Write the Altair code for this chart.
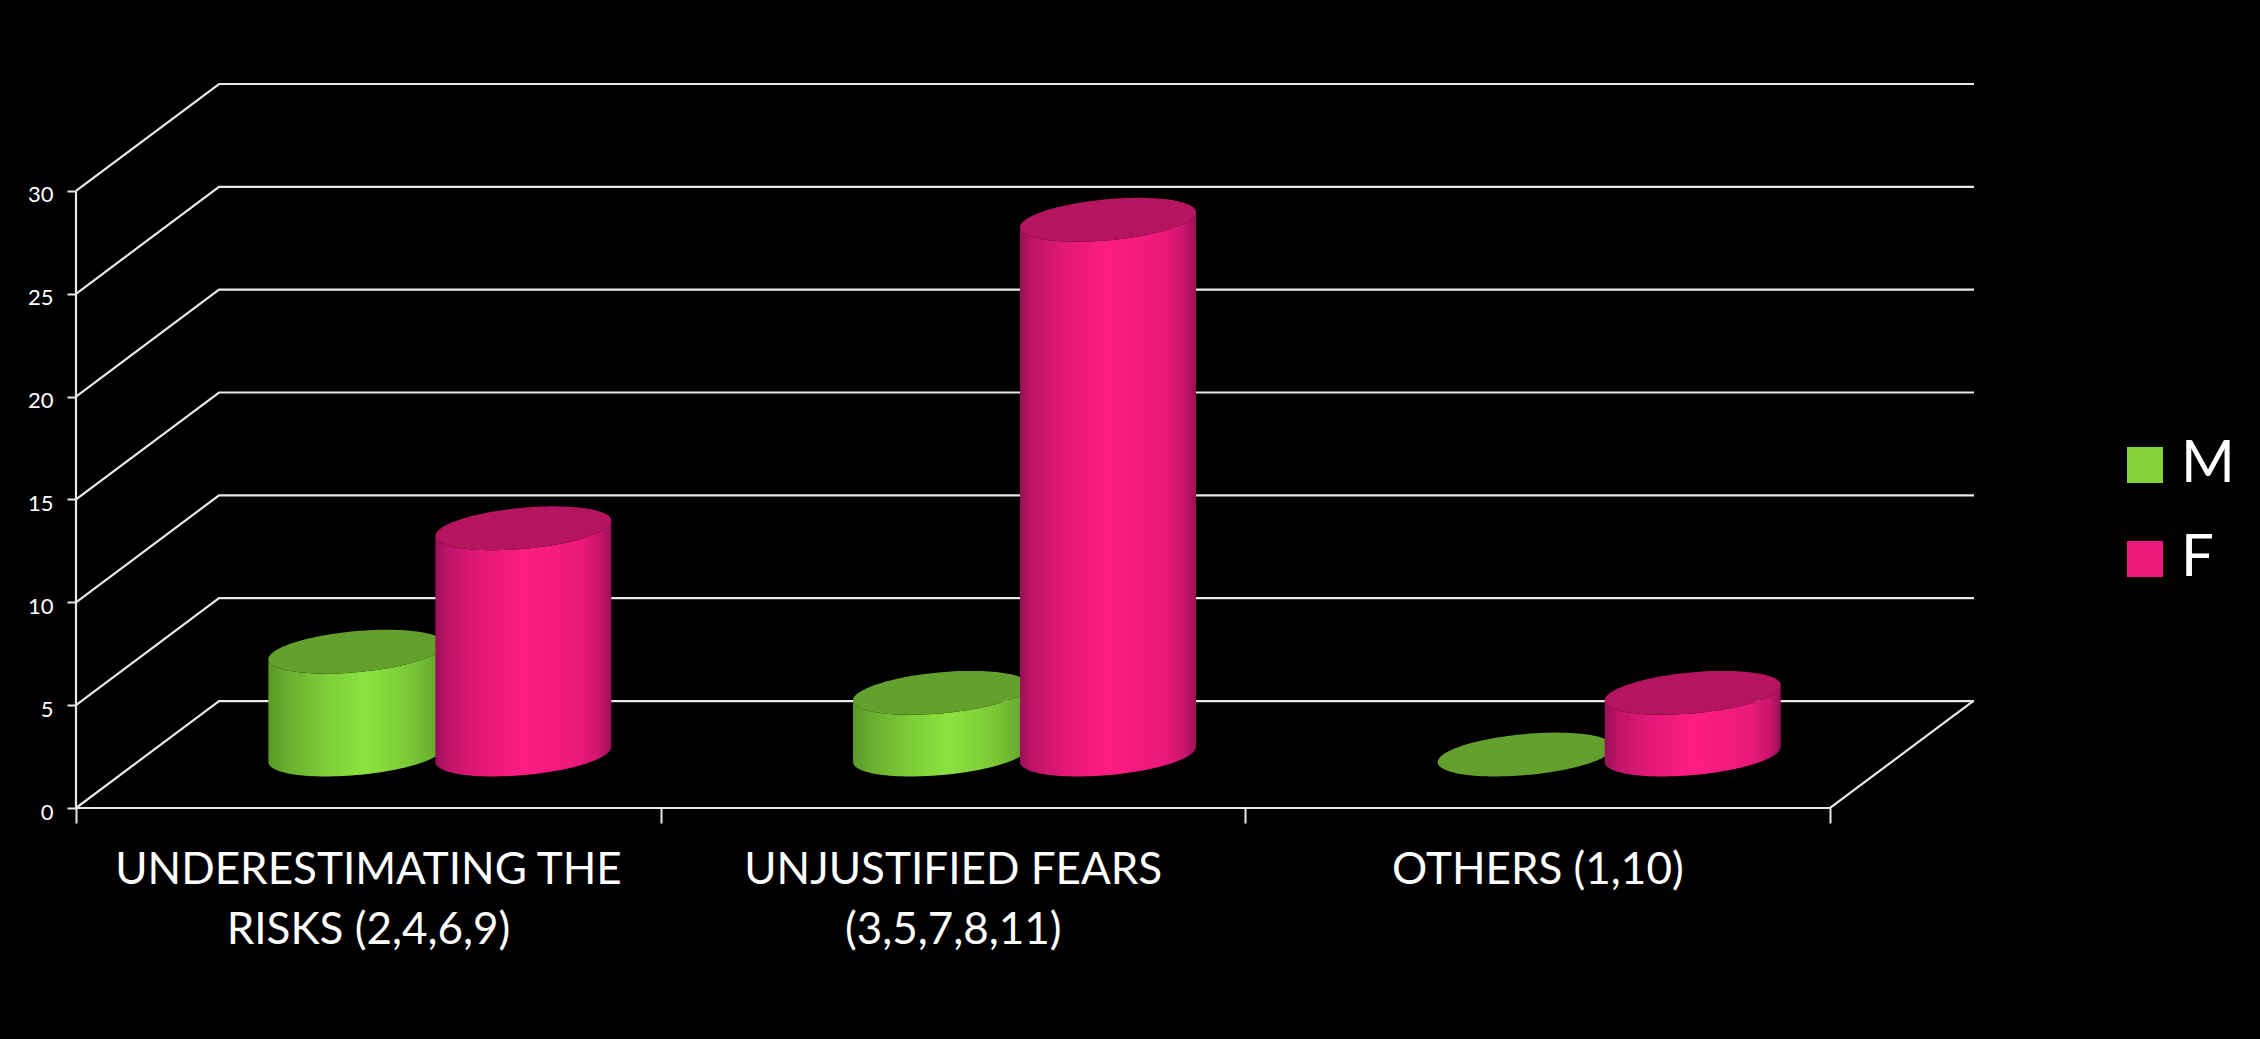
import numpy as np
import pandas as pd
import altair as alt

# Survey counts per answer group
categories = [
    ["UNDERESTIMATING THE", "RISKS (2,4,6,9)"],
    ["UNJUSTIFIED FEARS", "(3,5,7,8,11)"],
    ["OTHERS (1,10)"],
]
male_values = [5, 3, 0]
female_values = [11, 26, 3]
series_names = ["M", "F"]
series_colors = ["#84D33C", "#EC1A7D"]
y_ticks = [0, 5, 10, 15, 20, 25, 30]
x_ticks = [0, 1, 2, 3]

# Pseudo-3D projection, in axis units: how far the back wall is shifted
DEPTH_X = 0.2446
DEPTH_Y = 5.2
WALL_END = 3.2462
Y_TOP = 35.2

# Cylinder proportions, in axis units
RADIUS_X = 0.1505
TILT_Y = 0.37
RADIUS_Y = 1.0
BAR_OFFSET = 0.1428

x_scale = alt.Scale(domain=[0, WALL_END], nice=False, zero=False)
y_scale = alt.Scale(domain=[0, Y_TOP], nice=False, zero=False)
FONT = "Lato"
LINE = "#E8E8E8"

# Category labels sit midway between the ticks; the last tick has none
label_expr = "[" + ", ".join(
    "[" + ", ".join(f"'{part}'" for part in lines) + "]" for lines in categories
) + ", ['']][datum.value]"

x_axis = alt.Axis(
    values=x_ticks,
    domain=False,
    grid=False,
    ticks=True,
    tickSize=15,
    tickColor=LINE,
    tickWidth=2,
    labelExpr=label_expr,
    labelOffset=292,
    labelPadding=25,
    labelLimit=800,
    labelFont=FONT,
    labelFontSize=44,
    labelColor="white",
    labelLineHeight=60,
    labelOverlap=False,
    labelBound=False,
    labelFlush=False,
    labelAngle=0,
    labelAlign="center",
    labelBaseline="top",
)
y_axis = alt.Axis(
    values=y_ticks,
    domain=False,
    grid=False,
    tickSize=9,
    tickColor=LINE,
    tickWidth=2,
    labelFont=FONT,
    labelFontSize=22,
    labelColor="white",
    labelPadding=14,
    labelOffset=4,
)

x_enc = alt.X("x:Q", scale=x_scale, axis=x_axis, title=None)
y_enc = alt.Y("y:Q", scale=y_scale, axis=y_axis, title=None)

# Wall lines: each tick rises diagonally to the back wall, then runs to the right
wall_rows = []
for v in y_ticks:
    for x, y in [(0, v), (DEPTH_X, v + DEPTH_Y), (WALL_END, v + DEPTH_Y)]:
        wall_rows.append({"x": x, "y": y, "id": v})
walls = pd.DataFrame(wall_rows)

# Front frame: value axis, floor front edge and floor right edge
frame = pd.DataFrame(
    [
        {"x": 0, "y": 30, "o": 0},
        {"x": 0, "y": 0, "o": 1},
        {"x": 3, "y": 0, "o": 2},
        {"x": 3 + DEPTH_X, "y": DEPTH_Y, "o": 3},
    ]
)

wall_layer = (
    alt.Chart(walls)
    .mark_line(color=LINE, strokeWidth=2.2)
    .encode(x=x_enc, y=y_enc, detail="id:N", order="x:Q")
)
frame_layer = (
    alt.Chart(frame)
    .mark_line(color=LINE, strokeWidth=2.2)
    .encode(x=x_enc, y=y_enc, order="o:Q")
)


def cylinder_frames(values, side):
    """Outline the side wall and top disc of one cylinder per value."""
    bodies, tops = [], []
    angles = np.linspace(np.pi, 2 * np.pi, 61)
    for i, value in enumerate(values):
        cx = i + 0.5 + DEPTH_X / 2 + side * BAR_OFFSET
        floor = DEPTH_Y / 2
        top = floor + value
        xs = cx + RADIUS_X * np.cos(angles)
        front = RADIUS_Y * np.sin(angles) + TILT_Y * np.cos(angles)
        back = -RADIUS_Y * np.sin(angles) + TILT_Y * np.cos(angles)
        bodies.append(pd.DataFrame({"x": xs, "y": top + front, "y2": floor + front, "id": i}))
        tops.append(pd.DataFrame({"x": xs, "y": top + back, "y2": top + front, "id": i}))
    return pd.concat(bodies), pd.concat(tops)


def shade(stops):
    return alt.Gradient(
        gradient="linear",
        x1=0,
        x2=1,
        y1=0,
        y2=0,
        stops=[alt.GradientStop(color=c, offset=o) for o, c in stops],
    )


green_shade = shade(
    [(0, "#5B9A28"), (0.12, "#6CB030"), (0.35, "#7FCF39"), (0.55, "#8AE23F"), (0.8, "#7CC937"), (1, "#5F9F2A")]
)
pink_shade = shade(
    [(0, "#9A1058"), (0.08, "#C2146A"), (0.25, "#E21878"), (0.5, "#FF1D82"), (0.82, "#EB197B"), (0.93, "#CC1570"), (1, "#9A1058")]
)


def cylinder_layers(values, side, body_fill, top_fill):
    bodies, tops = cylinder_frames(values, side)
    body = (
        alt.Chart(bodies)
        .mark_area(color=body_fill)
        .encode(x=x_enc, y=y_enc, y2="y2:Q", detail="id:N")
    )
    disc = (
        alt.Chart(tops)
        .mark_area(color=top_fill)
        .encode(x=x_enc, y=y_enc, y2="y2:Q", detail="id:N")
    )
    return [body, disc]


# Invisible points that carry the colour legend
legend_layer = (
    alt.Chart(pd.DataFrame({"series": series_names, "x": [0, 0], "y": [0, 0]}))
    .mark_square(opacity=0)
    .encode(
        x=x_enc,
        y=y_enc,
        color=alt.Color(
            "series:N",
            scale=alt.Scale(domain=series_names, range=series_colors),
            legend=alt.Legend(
                title=None,
                orient="none",
                legendX=2040,
                legendY=352,
                symbolType="square",
                symbolSize=1296,
                symbolOpacity=1,
                symbolStrokeWidth=0,
                labelFont=FONT,
                labelFontSize=58,
                labelColor="white",
                labelOffset=7,
                rowPadding=36,
            ),
        ),
    )
)

chart = (
    alt.layer(
        wall_layer,
        frame_layer,
        *cylinder_layers(male_values, -1, green_shade, "#63A02D"),
        *cylinder_layers(female_values, 1, pink_shade, "#B5155F"),
        legend_layer,
    )
    .properties(
        width=1898,
        height=724,
        background="black",
        padding={"left": 76, "top": 84, "right": 286, "bottom": 231},
        autosize=alt.AutoSizeParams(type="none"),
    )
    .configure_view(stroke=None)
)

chart.save("out.html", embed_options={"renderer": "svg", "actions": False})
